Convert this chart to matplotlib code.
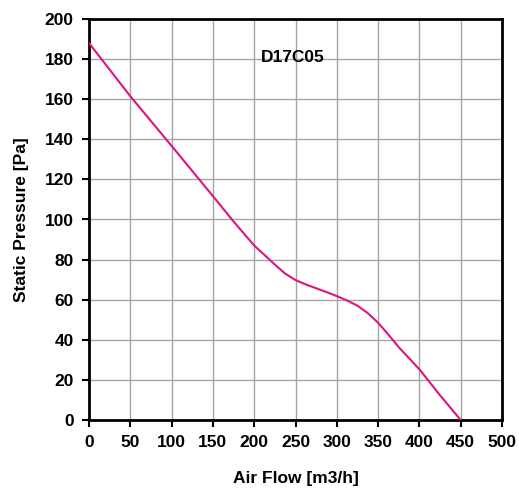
import matplotlib
matplotlib.use('Agg')
import matplotlib.pyplot as plt

# fan curve D17C05
air_flow = [0, 50, 100, 150, 175, 200, 212.5, 225, 237.5, 250, 262.5, 275, 287.5,
            300, 312.5, 325, 337.5, 350, 362.5, 375, 400, 425, 450]
pressure = [188, 161.5, 136.7, 111.7, 99, 87, 82.3, 77.5, 73, 69.8, 67.6, 65.7, 63.8,
            61.8, 59.6, 57, 53.3, 48.5, 42.6, 36.3, 25.3, 12.3, 0]

x_ticks = list(range(0, 501, 50))
y_ticks = list(range(0, 201, 20))

plt.rcParams['font.family'] = ['Liberation Sans', 'DejaVu Sans']
plt.rcParams['font.weight'] = 'bold'

fig = plt.figure(figsize=(5.19, 4.90), dpi=100)
ax = fig.add_axes([89 / 519, 70 / 490, 413 / 519, 401 / 490])

ax.plot(air_flow, pressure, color='#e0137f', linewidth=1.5, zorder=3)

ax.set_xlim(0, 500)
ax.set_ylim(0, 200)
ax.set_xticks(x_ticks)
ax.set_yticks(y_ticks)
ax.grid(True, color='#a6a6a6', linewidth=1)
ax.set_axisbelow(True)
for s in ax.spines.values():
    s.set_linewidth(2)
ax.tick_params(direction='out', length=5, width=1.5, labelsize=12.5, pad=6)
for lbl in ax.get_xticklabels() + ax.get_yticklabels():
    lbl.set_fontweight('bold')

ax.set_xlabel('Air Flow [m3/h]', fontsize=12.5, fontweight='bold', labelpad=15)
ax.set_ylabel('Static Pressure [Pa]', fontsize=12.5, fontweight='bold', labelpad=11)
ax.text(247, 181, 'D17C05', fontsize=12.5, fontweight='bold', ha='center', va='center')

fig.savefig('out.png', dpi=100)
